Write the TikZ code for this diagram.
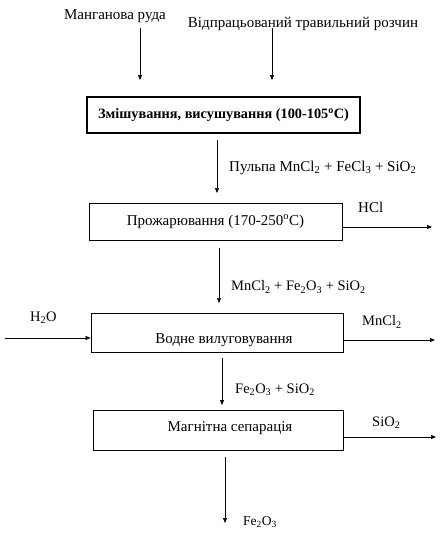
\documentclass[tikz,border=0pt]{standalone}
\usepackage{fontspec}
\setmainfont{Liberation Serif}
\usetikzlibrary{arrows.meta}
\begin{document}
\begin{tikzpicture}[x=1pt,y=1pt,
  every node/.style={inner sep=0pt,font=\fontsize{15}{18}\selectfont},
  lbl/.style={anchor=west},
  small/.style={anchor=west,font=\fontsize{14.5}{17}\selectfont},
  procbox/.style={draw,line width=0.9pt,inner sep=0pt},
  flow/.style={line width=0.6pt,-{Triangle[length=5pt,width=4pt]}}]
\useasboundingbox[fill=white] (0,0) rectangle (445,-533);
% inputs
\node (ore) at (115,-16) {Манганова руда};
\node (sol) at (303,-24) {Відпрацьований травильний розчин};
\coordinate (o1) at (140,-28); \coordinate (o2) at (140,-80);
\coordinate (s1) at (272,-28); \coordinate (s2) at (272,-80);
\draw[flow] (o1) -- (o2);
\draw[flow] (s1) -- (s2);
% boxes
\node[procbox,line width=1.3pt,minimum width=273pt,minimum height=36pt,font=\fontsize{14.3}{17}\selectfont] (b1) at (223.5,-115) {\bfseries Змішування, висушування (100-105\textsuperscript{o}C)};
\node[procbox,minimum width=253pt,minimum height=37pt] (b2) at (215.5,-221.5) {Прожарювання (170-250\textsuperscript{o}C)};
\node[procbox,minimum width=252pt,minimum height=39pt] (b3) at (217,-332.5) {\hspace*{14pt}\raisebox{-10.5pt}[0pt][0pt]{Водне вилуговування}};
\node[procbox,minimum width=250pt,minimum height=40pt] (b4) at (218,-430) {\hspace*{24pt}\raisebox{-1pt}[0pt][0pt]{Магнітна сепарація}};
% vertical flows
\coordinate (v1a) at (217,-140); \coordinate (v1b) at (217,-193);
\draw[flow] (v1a) -- (v1b);
\node[lbl] (l1) at (229,-168) {Пульпа MnCl\textsubscript{2} + FeCl\textsubscript{3} + SiO\textsubscript{2}};
\coordinate (v2a) at (219,-248); \coordinate (v2b) at (219,-303);
\draw[flow] (v2a) -- (v2b);
\node[small] (l2) at (231,-287) {MnCl\textsubscript{2} + Fe\textsubscript{2}O\textsubscript{3} + SiO\textsubscript{2}};
\coordinate (v3a) at (222,-358); \coordinate (v3b) at (222,-405);
\draw[flow] (v3a) -- (v3b);
\node[small] (l3) at (235,-390) {Fe\textsubscript{2}O\textsubscript{3} + SiO\textsubscript{2}};
\coordinate (v4a) at (225,-457); \coordinate (v4b) at (225,-523);
\draw[flow] (v4a) -- (v4b);
\node[small,font=\fontsize{13.5}{16}\selectfont] (l4) at (243,-522) {Fe\textsubscript{2}O\textsubscript{3}};
% side flows
\coordinate (hcl) at (432,-227);
\draw[flow] (b2.east |- hcl) -- (hcl);
\node[lbl] (lh) at (358,-207) {HCl};
\coordinate (h2o) at (5,-338);
\draw[flow] (h2o) -- (h2o -| b3.west);
\node[small] (lw) at (30,-318) {H\textsubscript{2}O};
\coordinate (mn) at (435,-340);
\draw[flow] (b3.east |- mn) -- (mn);
\node[small] (lm) at (362,-322) {MnCl\textsubscript{2}};
\coordinate (si) at (436,-437);
\draw[flow] (b4.east |- si) -- (si);
\node[small] (ls) at (372,-423) {SiO\textsubscript{2}};
\end{tikzpicture}
\end{document}
